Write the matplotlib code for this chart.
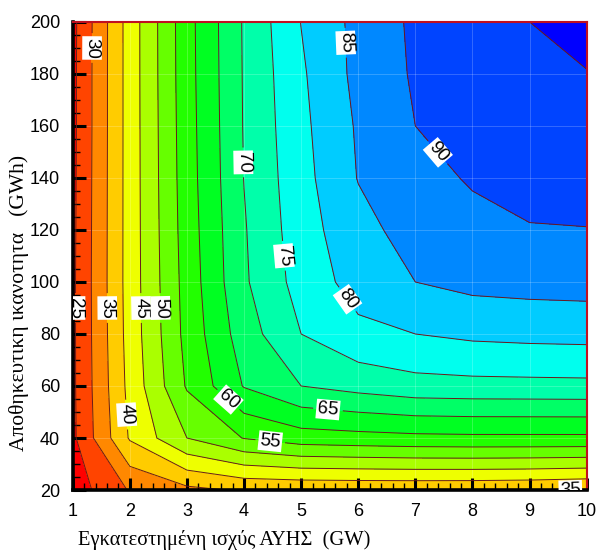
import numpy as np
import matplotlib
matplotlib.use("Agg")
import matplotlib.pyplot as plt
from matplotlib.colors import hsv_to_rgb
from matplotlib.ticker import MultipleLocator

# installed pumped-storage power (GW) and storage capacity (GWh)
power_gw = [1, 2, 3, 4, 5, 6, 7, 8, 9, 10]
storage_gwh = [20, 40, 60, 80, 100, 120, 140, 160, 180, 200]

# value, one row per power value (storage 20 -> 200)
p1 = [22.3, 24.0, 24.1, 24.1, 24.1, 24.0, 23.9, 23.8, 23.8, 23.7]
p2 = [30.4, 40.5, 41.5, 42.0, 42.2, 42.2, 42.2, 42.2, 42.2, 42.2]
p3 = [33.8, 50.0, 55.5, 56.6, 57.0, 57.4, 57.7, 57.9, 58.1, 58.2]
p4 = [35.6, 55.2, 65.3, 67.6, 69.3, 69.6, 70.1, 70.3, 70.4, 70.5]
p5 = [35.8, 57.7, 70.0, 75.0, 77.0, 77.8, 78.3, 78.8, 79.3, 80.1]
p6 = [35.9, 58.3, 71.8, 78.8, 82.0, 83.4, 85.2, 85.6, 86.4, 86.5]
p7 = [35.9, 58.8, 73.3, 80.0, 85.0, 87.0, 88.6, 90.0, 90.6, 90.9]
p8 = [35.8, 59.0, 73.6, 81.0, 86.4, 88.8, 90.4, 91.8, 92.6, 93.0]
p9 = [35.5, 59.0, 73.7, 81.4, 86.8, 89.8, 91.2, 92.6, 94.0, 95.0]
p10 = [34.8, 59.0, 73.8, 81.6, 87.0, 89.9, 91.5, 93.0, 94.9, 96.0]

levels = list(range(20, 101, 5))
label_spots = [(1.07, 90), (1.36, 190), (1.62, 90), (1.95, 49), (2.2, 90),
               (2.5, 90), (4.46, 39), (3.72, 54.6), (5.47, 50.8), (3.98, 146),
               (4.66, 110), (5.77, 92.7), (5.77, 192), (7.38, 149.6), (9.6, 20.3)]

X, Y = np.meshgrid(power_gw, storage_gwh)
Z = np.array([p1, p2, p3, p4, p5, p6, p7, p8, p9, p10]).T

nb = len(levels) - 1
band_colors = [hsv_to_rgb((240 / 360 * i / (nb - 1), 1, 1)) for i in range(nb)]

fig = plt.figure(figsize=(6.14, 5.51), dpi=100)
ax = fig.add_axes([0.1184, 0.1107, 0.8371, 0.8494])

ax.contourf(X, Y, Z, levels=levels, colors=band_colors)
cs = ax.contour(X, Y, Z, levels=levels, colors="#6a1a1a", linewidths=0.7)
labels = ax.clabel(cs, inline=True, fontsize=13.5, manual=label_spots, inline_spacing=3)
for t in labels:
    t.set_family("Liberation Sans")
    t.set_color("black")
    t.set_bbox(dict(facecolor="white", edgecolor="none", pad=1))
    r = t.get_rotation() % 360
    if 30 < r <= 90:
        t.set_rotation(r + 180)

ax.grid(True, color="white", alpha=0.2, linewidth=0.7)
ax.set_xlim(1, 10)
ax.set_ylim(20, 200)
ax.xaxis.set_major_locator(MultipleLocator(1))
ax.xaxis.set_minor_locator(MultipleLocator(0.2))
ax.yaxis.set_major_locator(MultipleLocator(20))
ax.yaxis.set_minor_locator(MultipleLocator(5))
ax.tick_params(which="major", direction="in", length=9, width=2.2, labelsize=13,
               pad=9, top=False, right=False)
ax.tick_params(which="minor", direction="in", length=5, width=1, top=False, right=False)
for lbl in ax.get_xticklabels() + ax.get_yticklabels():
    lbl.set_family("Liberation Sans")

for side in ["left", "bottom"]:
    ax.spines[side].set_linewidth(2.6)
    ax.spines[side].set_color("black")
for side in ["top", "right"]:
    ax.spines[side].set_linewidth(1.5)
    ax.spines[side].set_color("#c01020")

ax.set_xlabel("Εγκατεστημένη ισχύς ΑΥΗΣ  (GW)", family="Liberation Serif", fontsize=14.8, loc="left")
ax.set_ylabel("Αποθηκευτικη ικανοτητα   (GWh)", family="Liberation Serif", fontsize=15.5)
ax.xaxis.set_label_coords(0.01, -0.085)
ax.yaxis.set_label_coords(-0.085, 0.40)

fig.savefig("out.png", dpi=100)
